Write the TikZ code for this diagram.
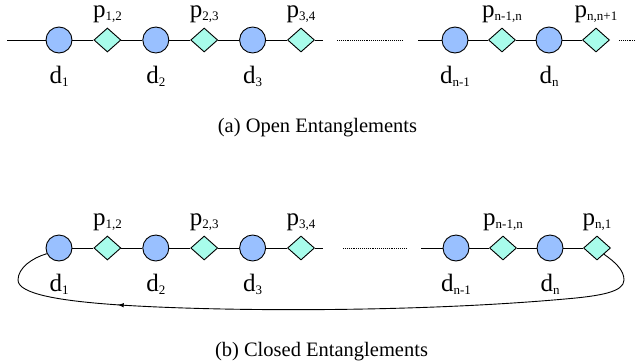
\documentclass[tikz,border=0pt]{standalone}
\usepackage{fontspec}
\setmainfont{Liberation Serif}
\newfontfamily\chainfont{Liberation Serif}
\usetikzlibrary{shapes,arrows.meta,decorations.markings,positioning}
\definecolor{dotblue}{HTML}{99C0FF}
\definecolor{gemcyan}{HTML}{A8FCEB}
\newcommand{\sublbl}[1]{\raisebox{-3.5pt}{\fontsize{13}{13}\selectfont #1}}

\begin{document}
\begin{tikzpicture}[
        x=1pt, y=-1pt
        , link/.style={line width=0.9pt}
        , gapline/.style={line width=0.8pt, dash pattern=on 0.8pt off 1.1pt}
        , dnode/.style={
             circle
            , draw
            , fill=dotblue
            , line width=0.9pt
            , minimum size=26pt
            , inner sep=0pt
            , node distance=48.4pt
        }
        , pnode/.style={
             diamond
            , draw
            , fill=gemcyan
            , line width=0.9pt
            , minimum width=27pt
            , minimum height=24pt
            , inner sep=0pt
            , node distance=48.4pt
        }
        , lbl/.style={anchor=base, inner sep=0pt, text height=0.7em, font=\chainfont\fontsize{25}{30}\selectfont}
        , plbl/.style={lbl, text height=0.47em}
        , captxt/.style={anchor=base, inner sep=0pt, font=\chainfont\fontsize{20.5}{24}\selectfont}
        , loopback/.style={
             line width=0.9pt
            , postaction={decorate}
            , decoration={markings, mark=at position -148pt with {\arrow{Latex[length=6pt,width=4.5pt]}}}
        }
        ]
        \useasboundingbox (0,0) rectangle (636,362);

        % (a) open chain
        \node[dnode] (od1) at (59,40) {};
        \node[pnode,right of=od1] (op12) {};
        \node[dnode,right of=op12] (od2) {};
        \node[pnode,right of=od2] (op23) {};
        \node[dnode,right of=op23] (od3) {};
        \node[pnode,right of=od3] (op34) {};
        \node[dnode] (odn1) at (455,40) {};
        \node[pnode,right of=odn1,node distance=47pt] (opn1n) {};
        \node[dnode,right of=opn1n,node distance=47pt] (odn) {};
        \node[pnode,right of=odn,node distance=47pt] (opnn1) {};

        \coordinate (ostart) at (7,40);
        \coordinate (oend) at (323,40);
        \coordinate (ogapl) at (337,40);
        \coordinate (ogapr) at (403,40);
        \coordinate (oresume) at (418,40);
        \coordinate (otaill) at (619,40);
        \coordinate (otailr) at (636,40);

        \draw[link] (ostart) -- (od1) -- (op12) -- (od2) -- (op23) -- (od3) -- (op34) -- (oend);
        \draw[link] (oresume) -- (odn1) -- (opn1n) -- (odn) -- (opnn1);
        \draw[gapline] (ogapl) -- (ogapr);
        \draw[gapline] (otaill) -- (otailr);

        \node[lbl] (old1) at ([yshift=-43pt]od1) {d\sublbl{1}};
        \node[lbl] (old2) at ([yshift=-43pt]od2) {d\sublbl{2}};
        \node[lbl] (old3) at ([yshift=-43pt]od3) {d\sublbl{3}};
        \node[lbl] (oldn1) at ([yshift=-43pt]odn1) {d\sublbl{n-1}};
        \node[lbl] (oldn) at ([yshift=-43pt]odn) {d\sublbl{n}};
        \node[plbl] (olp12) at ([yshift=23pt]op12) {p\sublbl{1,2}};
        \node[plbl] (olp23) at ([yshift=23pt]op23) {p\sublbl{2,3}};
        \node[plbl] (olp34) at ([yshift=23pt]op34) {p\sublbl{3,4}};
        \node[plbl] (olpn1n) at ([yshift=23pt]opn1n) {p\sublbl{n-1,n}};
        \node[plbl] (olpnn1) at ([yshift=23pt]opnn1) {p\sublbl{n,n+1}};

        \node[captxt] (capa) at (317.5,132) {(a) Open Entanglements};

        % (b) closed chain
        \node[dnode] (cd1) at (59,248) {};
        \node[pnode,right of=cd1] (cp12) {};
        \node[dnode,right of=cp12] (cd2) {};
        \node[pnode,right of=cd2] (cp23) {};
        \node[dnode,right of=cp23] (cd3) {};
        \node[pnode,right of=cd3] (cp34) {};
        \node[dnode] (cdn1) at (456,248) {};
        \node[pnode,right of=cdn1,node distance=47pt] (cpn1n) {};
        \node[dnode,right of=cpn1n,node distance=47pt] (cdn) {};
        \node[pnode,right of=cdn,node distance=47pt] (cpn1) {};

        \coordinate (cend) at (323,248);
        \coordinate (cgapl) at (343,248);
        \coordinate (cgapr) at (407,248);
        \coordinate (cresume) at (421,248);

        \draw[link] (cd1) -- (cp12) -- (cd2) -- (cp23) -- (cd3) -- (cp34) -- (cend);
        \draw[link] (cresume) -- (cdn1) -- (cpn1n) -- (cdn) -- (cpn1);
        \draw[gapline] (cgapl) -- (cgapr);

        \draw[loopback] (cpn1.south east) .. controls (615,262) and (624,270) .. (624,280)
            .. controls (624,292) and (600,296) .. (565,299)
            .. controls (420,312) and (230,312) .. (120,305)
            .. controls (60,301) and (18,294) .. (18,280)
            .. controls (18,268) and (32,258) .. (cd1.205);

        \node[lbl] (cld1) at ([yshift=-43pt]cd1) {d\sublbl{1}};
        \node[lbl] (cld2) at ([yshift=-43pt]cd2) {d\sublbl{2}};
        \node[lbl] (cld3) at ([yshift=-43pt]cd3) {d\sublbl{3}};
        \node[lbl] (cldn1) at ([yshift=-43pt]cdn1) {d\sublbl{n-1}};
        \node[lbl] (cldn) at ([yshift=-43pt]cdn) {d\sublbl{n}};
        \node[plbl] (clp12) at ([yshift=23pt]cp12) {p\sublbl{1,2}};
        \node[plbl] (clp23) at ([yshift=23pt]cp23) {p\sublbl{2,3}};
        \node[plbl] (clp34) at ([yshift=23pt]cp34) {p\sublbl{3,4}};
        \node[plbl] (clpn1n) at ([yshift=23pt]cpn1n) {p\sublbl{n-1,n}};
        \node[plbl] (clpn1) at ([yshift=23pt]cpn1) {p\sublbl{n,1}};

        \node[captxt] (capb) at (321.5,356) {(b) Closed Entanglements};

    \end{tikzpicture}
\end{document}
